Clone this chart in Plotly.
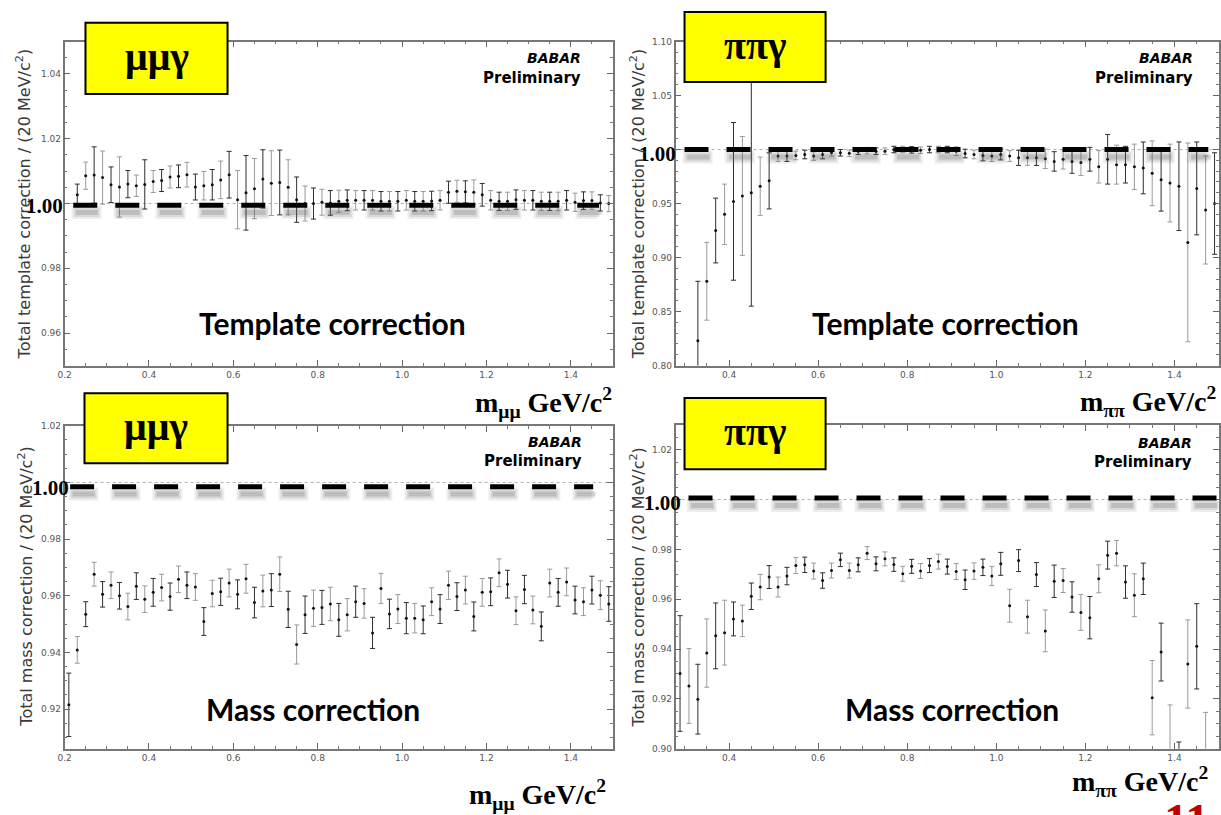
import plotly.graph_objects as go

W, H = 1221, 815

# ---------------- data ----------------
# Top-left: mu mu gamma, template correction
tl_x = [0.23, 0.25, 0.27, 0.29, 0.31, 0.33, 0.35, 0.37, 0.39, 0.41,
        0.43, 0.45, 0.47, 0.49, 0.51, 0.53, 0.55, 0.57, 0.59, 0.61,
        0.63, 0.65, 0.67, 0.69, 0.71, 0.73, 0.75, 0.77, 0.79, 0.81,
        0.83, 0.85, 0.87, 0.89, 0.91, 0.93, 0.95, 0.97, 0.99, 1.01,
        1.03, 1.05, 1.07, 1.09, 1.11, 1.13, 1.15, 1.17, 1.19, 1.21,
        1.23, 1.25, 1.27, 1.29, 1.31, 1.33, 1.35, 1.37, 1.39, 1.41,
        1.43, 1.45, 1.47, 1.49]
tl_y = [1.0027, 1.0086, 1.0088, 1.0080, 1.0058, 1.0051, 1.0060, 1.0055, 1.0059, 1.0068,
        1.0071, 1.0082, 1.0084, 1.0089, 1.0051, 1.0055, 1.0058, 1.0073, 1.0089, 1.0012,
        1.0033, 1.0046, 1.0076, 1.0063, 1.0065, 1.0050, 1.0012, 1.0000, 1.0000, 1.0004,
        1.0002, 1.0007, 1.0010, 1.0010, 1.0010, 1.0010, 1.0007, 1.0007, 1.0007, 1.0010,
        1.0007, 1.0007, 1.0008, 1.0010, 1.0035, 1.0038, 1.0036, 1.0035, 1.0027, 1.0010,
        1.0007, 1.0007, 1.0012, 1.0010, 1.0010, 1.0007, 1.0007, 1.0007, 1.0010, 1.0004,
        1.0009, 1.0009, 1.0002, 1.0000]
tl_e = [0.0033, 0.0042, 0.0087, 0.0082, 0.0055, 0.0093, 0.0042, 0.0033, 0.0076, 0.0034,
        0.0034, 0.0034, 0.0035, 0.0038, 0.0040, 0.0044, 0.0047, 0.0058, 0.0072, 0.0090,
        0.0115, 0.0093, 0.0090, 0.0100, 0.0100, 0.0085, 0.0070, 0.0054, 0.0048, 0.0040,
        0.0038, 0.0034, 0.0032, 0.0030, 0.0030, 0.0030, 0.0030, 0.0030, 0.0030, 0.0030,
        0.0030, 0.0030, 0.0030, 0.0030, 0.0034, 0.0034, 0.0034, 0.0038, 0.0035, 0.0030,
        0.0028, 0.0028, 0.0030, 0.0030, 0.0030, 0.0028, 0.0028, 0.0028, 0.0030, 0.0028,
        0.0027, 0.0027, 0.0025, 0.0025]

# Top-right: pi pi gamma, template correction
tr_x = [0.33, 0.35, 0.37, 0.39, 0.41, 0.43, 0.45, 0.47, 0.49, 0.51,
        0.53, 0.55, 0.57, 0.59, 0.61, 0.63, 0.65, 0.67, 0.69, 0.71,
        0.73, 0.75, 0.77, 0.79, 0.81, 0.83, 0.85, 0.87, 0.89, 0.91,
        0.93, 0.95, 0.97, 0.99, 1.01, 1.03, 1.05, 1.07, 1.09, 1.11,
        1.13, 1.15, 1.17, 1.19, 1.21, 1.23, 1.25, 1.27, 1.29, 1.31,
        1.33, 1.35, 1.37, 1.39, 1.41, 1.43, 1.45, 1.47, 1.49]
tr_y = [0.823, 0.878, 0.925, 0.940, 0.952, 0.957, 0.960, 0.966, 0.971, 0.994,
        0.994, 0.9945, 0.9954, 0.994, 0.9954, 0.997, 0.997, 0.9965, 0.9985, 0.999,
        0.9985, 0.9985, 1.000, 1.000, 0.9997, 0.9994, 1.000, 1.000, 1.000, 0.9985,
        0.9963, 0.9954, 0.9945, 0.994, 0.9954, 0.994, 0.9923, 0.9923, 0.9923, 0.9914,
        0.989, 0.991, 0.989, 0.988, 0.991, 0.984, 0.991, 0.986, 0.986, 0.984,
        0.983, 0.978, 0.972, 0.969, 0.966, 0.914, 0.964, 0.944, 0.950]
tr_e = [0.055, 0.036, 0.030, 0.028, 0.073, 0.055, 0.105, 0.027, 0.026, 0.005,
        0.005, 0.004, 0.004, 0.004, 0.004, 0.003, 0.003, 0.003, 0.003, 0.003,
        0.003, 0.003, 0.003, 0.003, 0.003, 0.003, 0.003, 0.003, 0.003, 0.004,
        0.004, 0.004, 0.005, 0.005, 0.005, 0.005, 0.007, 0.007, 0.007, 0.009,
        0.009, 0.009, 0.011, 0.012, 0.011, 0.015, 0.023, 0.018, 0.017, 0.021,
        0.024, 0.030, 0.029, 0.036, 0.041, 0.092, 0.043, 0.050, 0.047]

# Bottom-left: mu mu gamma, mass correction
bl_x = [0.21, 0.23, 0.25, 0.27, 0.29, 0.31, 0.33, 0.35, 0.37, 0.39,
        0.41, 0.43, 0.45, 0.47, 0.49, 0.51, 0.53, 0.55, 0.57, 0.59,
        0.61, 0.63, 0.65, 0.67, 0.69, 0.71, 0.73, 0.75, 0.77, 0.79,
        0.81, 0.83, 0.85, 0.87, 0.89, 0.91, 0.93, 0.95, 0.97, 0.99,
        1.01, 1.03, 1.05, 1.07, 1.09, 1.11, 1.13, 1.15, 1.17, 1.19,
        1.21, 1.23, 1.25, 1.27, 1.29, 1.31, 1.33, 1.35, 1.37, 1.39,
        1.41, 1.43, 1.45, 1.47, 1.49]
bl_y = [0.9215, 0.9409, 0.9535, 0.9676, 0.9605, 0.9637, 0.9600, 0.9562, 0.9634, 0.9588,
        0.9612, 0.9629, 0.9597, 0.9658, 0.9637, 0.9631, 0.9509, 0.9608, 0.9614, 0.9645,
        0.9605, 0.9660, 0.9576, 0.9617, 0.9620, 0.9676, 0.9552, 0.9428, 0.9533, 0.9556,
        0.9559, 0.9571, 0.9515, 0.9533, 0.9579, 0.9573, 0.9469, 0.9626, 0.9536, 0.9553,
        0.9521, 0.9521, 0.9515, 0.9579, 0.9553, 0.9637, 0.9597, 0.9620, 0.9527, 0.9612,
        0.9614, 0.9681, 0.9641, 0.9547, 0.9622, 0.9550, 0.9492, 0.9645, 0.9612, 0.9649,
        0.9585, 0.9579, 0.9620, 0.9602, 0.9571]
bl_e = [0.0112, 0.0047, 0.0044, 0.0042, 0.0045, 0.0047, 0.0047, 0.0047, 0.0047, 0.0047,
        0.0049, 0.0047, 0.0048, 0.0047, 0.0047, 0.0047, 0.0049, 0.0047, 0.0048, 0.0049,
        0.0051, 0.0051, 0.0054, 0.0056, 0.0058, 0.0061, 0.0064, 0.0069, 0.0066, 0.0064,
        0.0060, 0.0059, 0.0058, 0.0057, 0.0055, 0.0052, 0.0055, 0.0053, 0.0052, 0.0051,
        0.0055, 0.0052, 0.0049, 0.0049, 0.0051, 0.0050, 0.0049, 0.0049, 0.0051, 0.0049,
        0.0049, 0.0049, 0.0049, 0.0049, 0.0050, 0.0049, 0.0051, 0.0049, 0.0049, 0.0049,
        0.0049, 0.0049, 0.0049, 0.0051, 0.0061]

# Bottom-right: pi pi gamma, mass correction
br_x = [0.29, 0.31, 0.33, 0.35, 0.37, 0.39, 0.41, 0.43, 0.45, 0.47,
        0.49, 0.51, 0.53, 0.55, 0.57, 0.59, 0.61, 0.63, 0.65, 0.67,
        0.69, 0.71, 0.73, 0.75, 0.77, 0.79, 0.81, 0.83, 0.85, 0.87,
        0.89, 0.91, 0.93, 0.95, 0.97, 0.99, 1.01, 1.03, 1.05, 1.07,
        1.09, 1.11, 1.13, 1.15, 1.17, 1.19, 1.21, 1.23, 1.25, 1.27,
        1.29, 1.31, 1.33, 1.35, 1.37, 1.39, 1.41, 1.43, 1.45, 1.47]
br_y = [0.9302, 0.9252, 0.9199, 0.9384, 0.9453, 0.9466, 0.9521, 0.9513, 0.9612, 0.9649,
        0.9689, 0.9649, 0.9693, 0.9735, 0.9738, 0.9713, 0.9675, 0.9715, 0.9758, 0.9715,
        0.9738, 0.9785, 0.9742, 0.9762, 0.9739, 0.9702, 0.9732, 0.9713, 0.9735, 0.9751,
        0.9731, 0.9711, 0.9678, 0.9713, 0.9728, 0.9693, 0.9742, 0.9574, 0.9755, 0.9530,
        0.9699, 0.9473, 0.9672, 0.9675, 0.9609, 0.9547, 0.9526, 0.9682, 0.9777, 0.9785,
        0.9669, 0.9616, 0.9682, 0.9205, 0.9388, 0.8970, 0.8850, 0.9340, 0.9411, 0.8950]
br_e = [0.0232, 0.0150, 0.0140, 0.0137, 0.0132, 0.0130, 0.0068, 0.0063, 0.0053, 0.0051,
        0.0046, 0.0040, 0.0035, 0.0032, 0.0031, 0.0032, 0.0031, 0.0030, 0.0027, 0.0030,
        0.0028, 0.0026, 0.0028, 0.0028, 0.0027, 0.0030, 0.0028, 0.0030, 0.0028, 0.0030,
        0.0030, 0.0032, 0.0039, 0.0033, 0.0033, 0.0038, 0.0046, 0.0066, 0.0044, 0.0066,
        0.0048, 0.0084, 0.0065, 0.0048, 0.0061, 0.0072, 0.0085, 0.0056, 0.0056, 0.0051,
        0.0065, 0.0086, 0.0063, 0.0149, 0.0116, 0.0206, 0.0177, 0.0177, 0.0171, 0.0196]

# tick labels
tl_yticks = [0.96, 0.98, 1.00, 1.02, 1.04]
tl_yticktext = ["0.96", "0.98", " ", "1.02", "1.04"]
tr_yticks = [0.80, 0.85, 0.90, 0.95, 1.00, 1.05, 1.10]
tr_yticktext = ["0.80", "0.85", "0.90", "0.95", " ", "1.05", "1.10"]
bl_yticks = [0.92, 0.94, 0.96, 0.98, 1.00, 1.02]
bl_yticktext = ["0.92", "0.94", "0.96", "0.98", " ", "1.02"]
br_yticks = [0.90, 0.92, 0.94, 0.96, 0.98, 1.00, 1.02]
br_yticktext = ["0.90", "0.92", "0.94", "0.96", "0.98", " ", "1.02"]
mm_xticks = [0.2, 0.4, 0.6, 0.8, 1.0, 1.2, 1.4]
mm_xticktext = ["0.2", "0.4", "0.6", "0.8", "1.0", "1.2", "1.4"]
pp_xticks = [0.4, 0.6, 0.8, 1.0, 1.2, 1.4]
pp_xticktext = ["0.4", "0.6", "0.8", "1.0", "1.2", "1.4"]

# ---------------- figure ----------------
fig = go.Figure()

DARK = "#2e2e2e"
LIGHT = "#9a9a9a"

panels = [
    (tl_x, tl_y, tl_e, "x", "y"),
    (tr_x, tr_y, tr_e, "x2", "y2"),
    (bl_x, bl_y, bl_e, "x3", "y3"),
    (br_x, br_y, br_e, "x4", "y4"),
]
for xs, ys, es, xa, ya in panels:
    for parity, col in ((0, DARK), (1, LIGHT)):
        fig.add_trace(go.Scatter(
            x=xs[parity::2], y=ys[parity::2], mode="markers",
            marker=dict(size=3, color="#111111"),
            error_y=dict(type="data", array=es[parity::2], visible=True,
                         color=col, thickness=1, width=2.5),
            xaxis=xa, yaxis=ya, showlegend=False, hoverinfo="skip"))


def fx(p):
    return p / W


def fy(p):
    return 1 - p / H


tickfont = dict(family="DejaVu Sans", size=9, color="#555555")


def axis(domain, rng, tickvals, ticktext, anchor, minor_dtick, minor_tick0):
    return dict(domain=domain, range=rng, anchor=anchor,
                tickmode="array", tickvals=tickvals, ticktext=ticktext,
                showline=True, linecolor="#777777", linewidth=1.5,
                mirror="allticks", ticks="inside", ticklen=6, tickwidth=1,
                tickcolor="#666666", showgrid=False, zeroline=False,
                tickfont=tickfont,
                minor=dict(tickmode="linear", tick0=minor_tick0, dtick=minor_dtick,
                           ticks="inside", ticklen=3, tickcolor="#777777",
                           showgrid=False))


xdom_l = [fx(58), fx(610)]
xdom_r = [fx(673), fx(1220)]
ydom_t = [fy(365), fy(37)]
ydom_bl = [fy(753), fy(426)]
ydom_br = [fy(753), fy(425)]

fig.update_layout(
    width=W, height=H, margin=dict(l=0, r=0, t=0, b=0),
    paper_bgcolor="white", plot_bgcolor="white",
    xaxis=axis(xdom_l, [0.2, 1.5], mm_xticks, mm_xticktext, "y", 0.05, 0.2),
    yaxis=axis(ydom_t, [0.95, 1.05], tl_yticks, tl_yticktext, "x", 0.005, 0.95),
    xaxis2=axis(xdom_r, [0.28, 1.5], pp_xticks, pp_xticktext, "y2", 0.05, 0.3),
    yaxis2=axis(ydom_t, [0.80, 1.10], tr_yticks, tr_yticktext, "x2", 0.01, 0.80),
    xaxis3=axis(xdom_l, [0.2, 1.5], mm_xticks, mm_xticktext, "y3", 0.05, 0.2),
    yaxis3=axis(ydom_bl, [0.906, 1.02], bl_yticks, bl_yticktext, "x3", 0.005, 0.90),
    xaxis4=axis(xdom_r, [0.28, 1.5], pp_xticks, pp_xticktext, "y4", 0.05, 0.3),
    yaxis4=axis(ydom_br, [0.90, 1.03], br_yticks, br_yticktext, "x4", 0.005, 0.90),
)

shapes = []
annotations = []

# reference lines, soft shadows and thick dashed overlays
refs = [
    # xa, ya, xrange, line y, shadow offset (data), dash start, dash end
    ("x", "y", [0.2, 1.5], 0.9995, 0.0023, 0.2205, 1.467),
    ("x2", "y2", [0.28, 1.5], 1.0000, 0.0068, 0.300, 1.476),
    ("x3", "y3", [0.2, 1.5], 0.9985, 0.0026, 0.213, 1.453),
    ("x4", "y4", [0.28, 1.5], 1.0006, 0.0030, 0.309, 1.5),
]
shadow_layers = [(13, 0.10, "30px,12px", -0.008), (9, 0.14, "26px,16px", -0.003),
                 (5, 0.22, "22px,20px", 0.002)]
for xa, ya, xr, ly, soff, xs0, xs1 in refs:
    shapes.append(dict(type="line", xref=xa, yref=ya, x0=xr[0], x1=xr[1], y0=1.0, y1=1.0,
                       line=dict(color="#b0b0b0", width=1, dash="dot"), layer="below"))
    for w, a, d, dx in shadow_layers:
        shapes.append(dict(type="line", xref=xa, yref=ya, x0=xs0 + dx + 0.004,
                           x1=xs1 + dx + 0.004, y0=ly - soff, y1=ly - soff,
                           line=dict(color="rgba(90,90,90,%.2f)" % a, width=w, dash=d),
                           layer="above"))
    shapes.append(dict(type="line", xref=xa, yref=ya, x0=xs0, x1=xs1, y0=ly, y1=ly,
                       line=dict(color="black", width=5, dash="24px,18px"), layer="above"))

# yellow label boxes
boxes = [
    (79, 222, 18, 90, "μμγ"),
    (682, 824, 7, 78, "ππγ"),
    (78, 222, 393, 464, "μμγ"),
    (682, 824, 398, 470, "ππγ"),
]
for x0, x1, y0, y1, txt in boxes:
    shapes.append(dict(type="rect", xref="paper", yref="paper",
                       x0=fx(x0), x1=fx(x1), y0=fy(y1), y1=fy(y0),
                       fillcolor="#ffff00", line=dict(color="black", width=2), layer="above"))
    annotations.append(dict(xref="paper", yref="paper", x=fx((x0 + x1) / 2),
                            y=fy((y0 + y1) / 2 - 2), text="<b>" + txt + "</b>",
                            showarrow=False, xanchor="center", yanchor="middle",
                            font=dict(family="Liberation Serif", size=40, color="black")))

# big "1.00" overlays
for cx, cy in ((38, 203), (655, 151), (44, 489), (660, 504)):
    annotations.append(dict(xref="paper", yref="paper", x=fx(cx), y=fy(cy),
                            text="<b>1.00</b>", showarrow=False,
                            xanchor="center", yanchor="middle",
                            font=dict(family="Liberation Serif", size=21, color="black")))

# BABAR Preliminary
for rx, by in ((580, 54), (1196, 54), (581, 442), (1195, 443)):
    annotations.append(dict(xref="paper", yref="paper", x=fx(rx), y=fy(by),
                            text="<b><i>BABAR</i></b>", showarrow=False,
                            xanchor="right", yanchor="middle",
                            font=dict(family="DejaVu Sans", size=14, color="black")))
    annotations.append(dict(xref="paper", yref="paper", x=fx(rx), y=fy(by + 20),
                            text="<b>Preliminary</b>", showarrow=False,
                            xanchor="right", yanchor="middle",
                            font=dict(family="DejaVu Sans", size=15, color="black")))

# panel captions
for cx, cy, txt in ((328, 322, "Template correction"), (945, 322, "Template correction"),
                    (308, 713, "Mass correction"), (951, 713, "Mass correction")):
    annotations.append(dict(xref="paper", yref="paper", x=fx(cx), y=fy(cy),
                            text="<b>" + txt + "</b>", showarrow=False,
                            xanchor="center", yanchor="middle",
                            font=dict(family="Lato", size=30, color="black")))

# y-axis titles
for cx, cy, txt in ((17, 201, "Total template correction / (20 MeV/c<sup>2</sup>)"),
                    (635, 201, "Total template correction / (20 MeV/c<sup>2</sup>)"),
                    (19, 589, "Total mass correction / (20 MeV/c<sup>2</sup>)"),
                    (635, 590, "Total mass correction / (20 MeV/c<sup>2</sup>)")):
    annotations.append(dict(xref="paper", yref="paper", x=fx(cx), y=fy(cy),
                            text=txt, showarrow=False, textangle=-90,
                            xanchor="center", yanchor="middle",
                            font=dict(family="DejaVu Sans", size=16, color="#3a3a3a")))

# x-axis titles
for rx, cy, sub in ((611, 402, "μμ"), (1219, 401, "ππ"), (605, 799, "μμ"), (1211, 786, "ππ")):
    annotations.append(dict(xref="paper", yref="paper", x=fx(rx), y=fy(cy),
                            text="<b>m<sub>" + sub + "</sub> GeV/c<sup>2</sup></b>",
                            showarrow=False, xanchor="right", yanchor="middle",
                            font=dict(family="Liberation Serif", size=28, color="black")))

# slide page number (cut off at the bottom edge, as in the slide)
annotations.append(dict(xref="paper", yref="paper", x=fx(1187), y=fy(797),
                        text="<b>11</b>", showarrow=False, xanchor="center", yanchor="top",
                        font=dict(family="Liberation Serif", size=48, color="#c00000")))

fig.update_layout(shapes=shapes, annotations=annotations)

fig.write_html("out.html")
